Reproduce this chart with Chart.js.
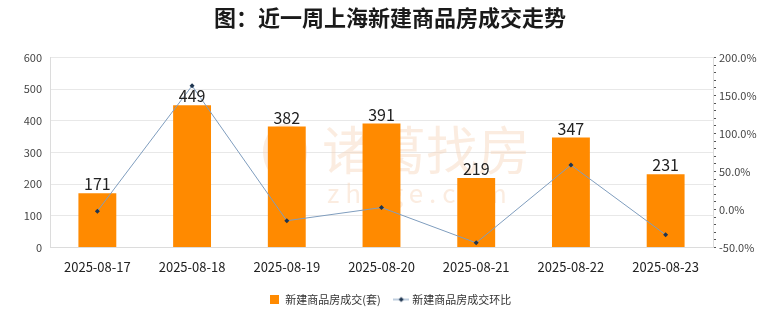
<!DOCTYPE html>
<html lang="zh-CN">
<head>
<meta charset="utf-8">
<title>近一周上海新建商品房成交走势</title>
<script src="https://cdn.jsdelivr.net/npm/chart.js@4.4.1/dist/chart.umd.min.js"></script>
<style>
    html, body { margin: 0; padding: 0; background: #ffffff; }
    #wrap { width: 780px; height: 328px; position: relative; }
</style>
</head>
<body>
<div id="wrap"><canvas id="trend-chart"></canvas></div>
<script>
// Daily figures for the last week
const dates = ['2025-08-17', '2025-08-18', '2025-08-19', '2025-08-20', '2025-08-21', '2025-08-22', '2025-08-23'];
const deals = [171, 449, 382, 391, 219, 347, 231];               // 套
const dealsChange = [-2.3, 162.6, -14.9, 2.4, -44.0, 58.4, -33.4]; // 环比 %

const seriesNames = ['新建商品房成交(套)', '新建商品房成交环比'];

const barColor = '#FF8A00';
const lineColor = '#7F9DBE';
const markerColor = '#1E3550';
const fontFamily = "'Noto Sans CJK SC', 'Noto Sans', sans-serif";

// Legend icons: plain square for bars, short line with a diamond for the ratio
function makeIcon(kind) {
    const c = document.createElement('canvas');
    if (kind === 'bar') {
        c.width = 9; c.height = 9;
        const g = c.getContext('2d');
        g.fillStyle = barColor;
        g.fillRect(0, 0, 9, 9);
    } else {
        c.width = 16; c.height = 8;
        const g = c.getContext('2d');
        g.strokeStyle = lineColor;
        g.lineWidth = 1;
        g.beginPath(); g.moveTo(0, 4); g.lineTo(16, 4); g.stroke();
        g.fillStyle = markerColor;
        g.beginPath(); g.moveTo(8, 1.5); g.lineTo(10.5, 4); g.lineTo(8, 6.5); g.lineTo(5.5, 4); g.closePath(); g.fill();
    }
    return c;
}
const legendIcons = [makeIcon('bar'), makeIcon('line')];

// Faint site mark behind the bars
const watermark = {
    id: 'watermark',
    beforeDatasetsDraw(chart) {
        const ctx = chart.ctx;
        ctx.save();
        ctx.fillStyle = 'rgba(246, 212, 186, 0.45)';
        ctx.beginPath();
        ctx.ellipse(285, 152, 22, 28, 0, 0, Math.PI * 2);
        ctx.fill();
        ctx.fillStyle = 'rgba(253, 240, 230, 0.9)';
        ctx.beginPath();
        ctx.ellipse(287, 152, 9, 24, 0, 0, Math.PI * 2);
        ctx.fill();
        ctx.fillStyle = 'rgba(246, 212, 186, 0.45)';
        ctx.textAlign = 'left';
        ctx.textBaseline = 'middle';
        ctx.font = '52px ' + fontFamily;
        ctx.fillText('诸葛找房', 322, 150);
        ctx.font = '26px ' + fontFamily;
        ctx.fillText('z h u g e . c o m', 327, 193);
        ctx.restore();
    }
};

// Value labels on top of each bar
const barValues = {
    id: 'barValues',
    afterDatasetsDraw(chart) {
        const ctx = chart.ctx;
        const meta = chart.getDatasetMeta(0);
        ctx.save();
        ctx.fillStyle = '#222';
        ctx.font = '16px ' + fontFamily;
        ctx.textAlign = 'center';
        ctx.textBaseline = 'bottom';
        meta.data.forEach((bar, i) => {
            ctx.fillText(String(deals[i]), bar.x, bar.y - 1);
        });
        ctx.restore();
    }
};

new Chart(document.getElementById('trend-chart'), {
    data: {
        labels: dates,
        datasets: [{
            type: 'bar',
            label: seriesNames[0],
            data: deals,
            backgroundColor: barColor,
            barPercentage: 0.4,
            categoryPercentage: 1,
            yAxisID: 'y',
            order: 1
        }, {
            type: 'line',
            label: seriesNames[1],
            data: dealsChange,
            borderColor: lineColor,
            borderWidth: 1,
            pointStyle: 'rectRot',
            pointRadius: 2.5,
            pointBackgroundColor: markerColor,
            pointBorderColor: markerColor,
            pointBorderWidth: 0,
            tension: 0,
            yAxisID: 'y1',
            order: 0
        }]
    },
    options: {
        responsive: true,
        maintainAspectRatio: false,
        animation: false,
        layout: { padding: { top: 0, left: 0, right: 0, bottom: 13 } },
        plugins: {
            title: {
                display: true,
                text: '图：近一周上海新建商品房成交走势',
                color: '#1a1a1a',
                font: { family: fontFamily, size: 22, weight: 'bold' },
                padding: { top: 4, bottom: 27 }
            },
            legend: {
                position: 'bottom',
                labels: {
                    color: '#333',
                    font: { family: fontFamily, size: 11 },
                    usePointStyle: true,
                    padding: 15,
                    sort: (a, b) => a.datasetIndex - b.datasetIndex,
                    generateLabels(chart) {
                        const items = Chart.defaults.plugins.legend.labels.generateLabels(chart);
                        items.forEach(item => { item.pointStyle = legendIcons[item.datasetIndex]; });
                        return items;
                    }
                }
            },
            tooltip: { enabled: false }
        },
        scales: {
            x: {
                grid: { display: false },
                border: { color: '#dcdcdc' },
                ticks: {
                    color: '#222',
                    font: { family: fontFamily, size: 13 },
                    padding: 4,
                    maxRotation: 0
                }
            },
            y: {
                position: 'left',
                min: 0,
                max: 600,
                ticks: {
                    stepSize: 100,
                    color: '#444',
                    font: { family: fontFamily, size: 11 },
                    padding: 8
                },
                grid: { color: '#e8e8e8', drawTicks: false },
                border: { color: '#dcdcdc' },
                afterFit(scale) { scale.width = 50; }
            },
            y1: {
                position: 'right',
                min: -50,
                max: 200,
                ticks: {
                    stepSize: 10,
                    autoSkip: false,
                    color: '#444',
                    font: { family: fontFamily, size: 11 },
                    padding: 3,
                    callback: v => (v % 50 === 0 ? v.toFixed(1) + '%' : '')
                },
                grid: { drawOnChartArea: false, color: '#555', tickLength: 3 },
                border: { color: '#dcdcdc' },
                afterFit(scale) { scale.width = 67; }
            }
        }
    },
    plugins: [watermark, barValues]
});
</script>
</body>
</html>
